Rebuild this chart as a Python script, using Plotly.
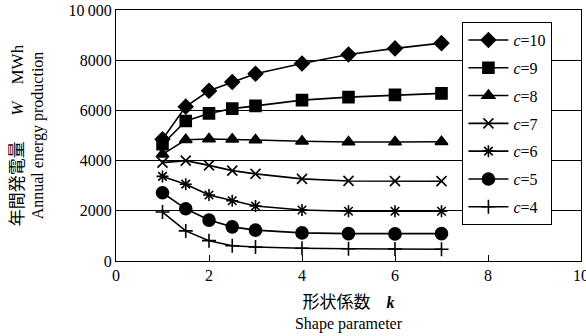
import plotly.graph_objects as go

# Shape parameter k
k_values = [1, 1.5, 2, 2.5, 3, 4, 5, 6, 7]

# Annual energy production (MWh) for each scale parameter c
series_names = ["c=10", "c=9", "c=8", "c=7", "c=6", "c=5", "c=4"]
c10 = [4850, 6150, 6780, 7130, 7460, 7870, 8230, 8470, 8680]
c9 = [4650, 5580, 5880, 6070, 6180, 6410, 6530, 6620, 6680]
c8 = [4250, 4830, 4860, 4850, 4820, 4770, 4740, 4740, 4750]
c7 = [3920, 4000, 3810, 3600, 3470, 3270, 3190, 3180, 3180]
c6 = [3370, 3060, 2630, 2400, 2190, 2030, 1980, 1980, 1980]
c5 = [2720, 2080, 1630, 1360, 1230, 1120, 1090, 1080, 1090]
c4 = [1950, 1200, 810, 610, 560, 510, 490, 480, 470]

y_ticks = [0, 2000, 4000, 6000, 8000, 10000]
y_tick_text = ["0", "2000", "4000", "6000", "8000", "10\u2009000"]
x_ticks = [0, 2, 4, 6, 8, 10]

series = [c10, c9, c8, c7, c6, c5, c4]
symbols = ["diamond", "square", "triangle-up", "x-thin-open",
           "asterisk-open", "circle", "cross-thin-open"]
sizes = [11, 11, 11, 10, 10, 12, 10]

SERIF = "Liberation Serif, Times New Roman, serif"
CJK = "Noto Sans CJK JP"

fig = go.Figure()
for name, vals, sym, sz in zip(series_names, series, symbols, sizes):
    label = "<i>c</i>=" + name.split("=")[1]
    fig.add_trace(go.Scatter(
        x=k_values, y=vals, name=label, mode="lines+markers",
        line=dict(color="black", width=1.6),
        marker=dict(symbol=sym, size=sz, color="black",
                    line=dict(color="black", width=1.6)),
        legendgroup=name,
    ))

fig.update_layout(
    width=586, height=336,
    margin=dict(l=116, r=5, t=10, b=75, autoexpand=False),
    paper_bgcolor="white", plot_bgcolor="white",
    font=dict(family=SERIF, size=14, color="black"),
    showlegend=True,
    legend=dict(
        x=0.745, y=0.952, xanchor="left", yanchor="top",
        bgcolor="white", bordercolor="black", borderwidth=1,
        font=dict(family=SERIF, size=16, color="black"),
        tracegroupgap=4, itemwidth=40,
    ),
    xaxis=dict(
        range=[0, 10], tickvals=x_ticks, ticks="inside", ticklen=6,
        tickcolor="black", showgrid=False, zeroline=False,
        showline=True, linecolor="black", linewidth=1, mirror=True,
        tickfont=dict(family=SERIF, size=16), ticklabeloverflow="allow",
        automargin=False,
        title=dict(
            text=f"<span style='font-family:{CJK};font-size:17px'>形状係数</span>\u2003<b><i>k</i></b>"
                 "<br>Shape parameter",
            font=dict(family=SERIF, size=16), standoff=13,
        ),
    ),
    yaxis=dict(
        range=[0, 10000], tickvals=y_ticks, ticktext=y_tick_text,
        ticks="", showgrid=True, gridcolor="black", gridwidth=1,
        zeroline=False, showline=True, linecolor="black", linewidth=1,
        mirror=True, tickfont=dict(family=SERIF, size=16), automargin=False,
        title=dict(
            text=f"<span style='font-size:17px'><span style='font-family:{CJK}'>年間発電量</span>"
                 "\u2003\u2002<i>W</i>\u2003MWh</span>"
                 "<br>Annual energy production",
            font=dict(family=SERIF, size=16), standoff=20,
        ),
    ),
)

fig.write_html("out.html")
